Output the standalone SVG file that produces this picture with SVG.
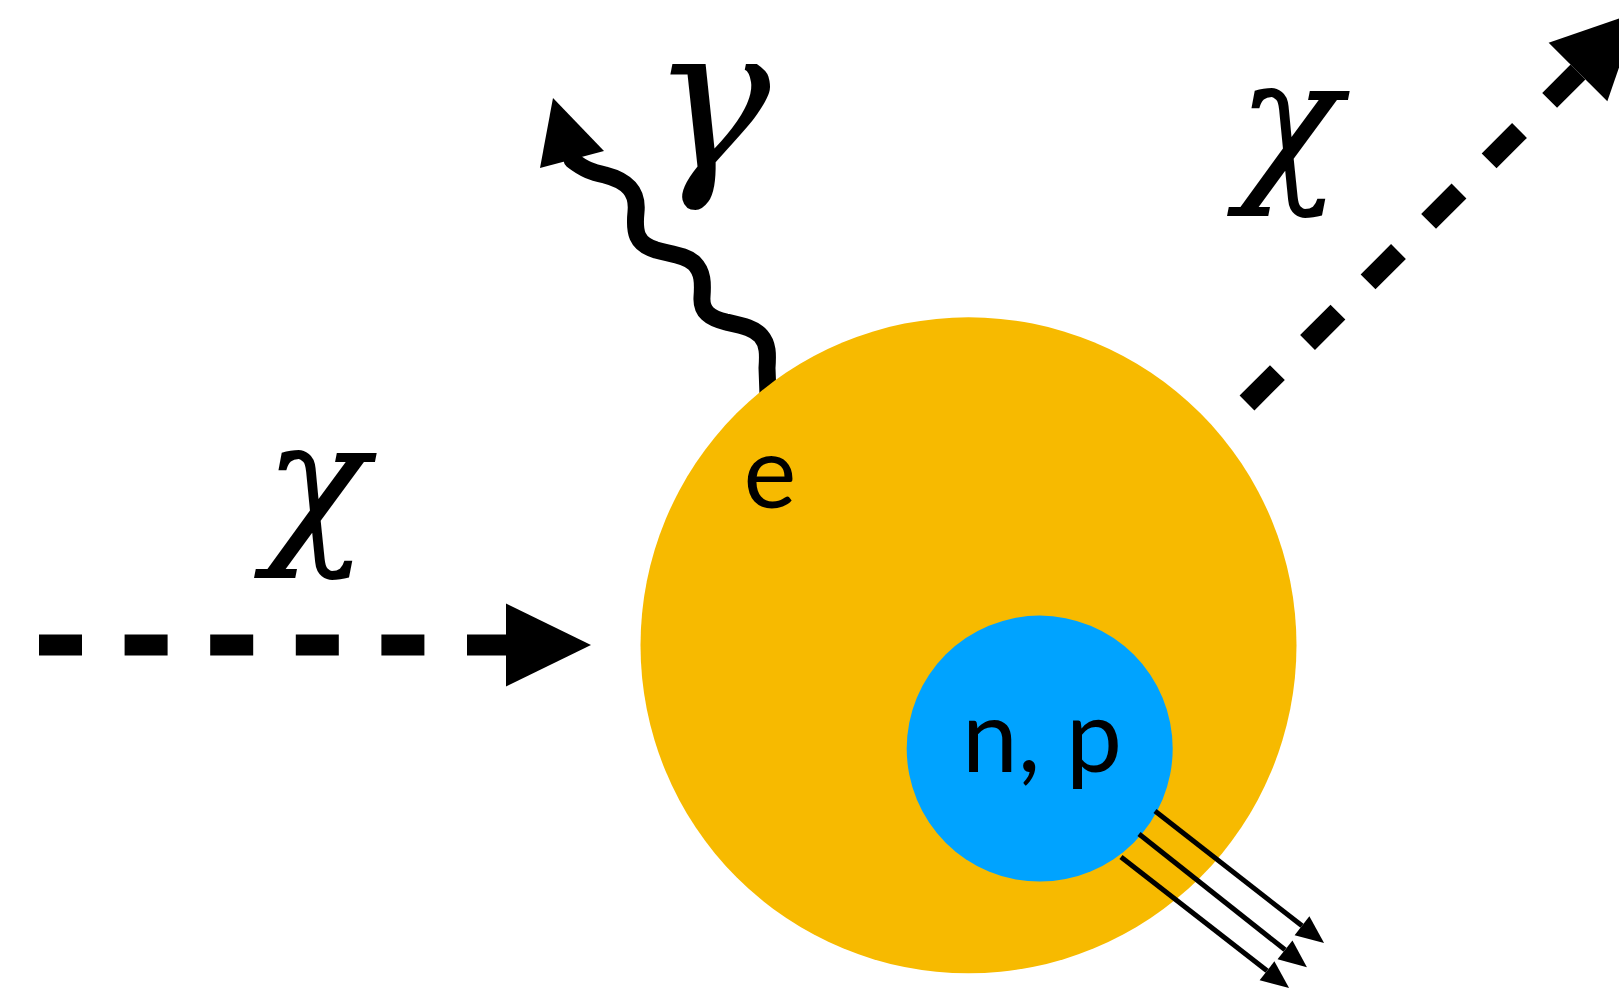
<svg xmlns="http://www.w3.org/2000/svg" width="1619" height="992" viewBox="0 0 1619 992">
<style>
.dash{fill:none;stroke:#000;stroke-width:21;stroke-dasharray:43 42.6}
.wave{fill:none;stroke:#000;stroke-width:17;stroke-linecap:round}
.thin{fill:none;stroke:#000;stroke-width:5}
.greek{font-family:"DejaVu Serif","Liberation Serif",serif;font-style:italic;fill:#000}
.lbl{font-family:Lato,"Open Sans",sans-serif;fill:#000;text-anchor:middle}
</style>
<defs>
<marker id="bigHead" markerUnits="userSpaceOnUse" markerWidth="86" markerHeight="84" refX="0" refY="41.5" orient="auto" overflow="visible">
<path d="M0,0 L85,41.5 L0,83 Z" fill="#000"/>
</marker>
<marker id="smallHead" markerUnits="userSpaceOnUse" markerWidth="30" markerHeight="26" refX="0" refY="12" orient="auto" overflow="visible">
<path d="M0,0 L28,12 L0,24 Z" fill="#000"/>
</marker>
</defs>
<g id="connectors">
<path id="photon" class="wave" d="M572,160 C585,170 592,172 605,175 C628,181 638,192 636,212 C634,232 636,244 656,250 C676,255 686,256 694,263 C703,272 703,283 702,297 C701,312 710,318 726,322 C744,326 754,328 761,336 C768,344 768,354 767,368 L768,395"/>
<polygon points="553,98 604,151 540,168" fill="#000"/>
<path id="chi-in" class="dash" d="M39,645 L506,645" marker-end="url(#bigHead)"/>
<path id="chi-out" class="dash" d="M1247,403 L1578,72" marker-end="url(#bigHead)"/>
</g>
<g id="atom">
<circle cx="968.5" cy="645.3" r="328" fill="#F7BA00"/>
<text class="lbl" x="770" y="508" font-size="100">e</text>
</g>
<g id="nucleus">
<circle cx="1039.7" cy="748.6" r="133" fill="#00A3FF"/>
<text class="lbl" x="1042" y="772" font-size="100">n, p</text>
</g>
<g id="recoil">
<path class="thin" d="M1155,811 L1302,925.8" marker-end="url(#smallHead)"/>
<path class="thin" d="M1139,834 L1285,949.8" marker-end="url(#smallHead)"/>
<path class="thin" d="M1121,857 L1267,970.8" marker-end="url(#smallHead)"/>
</g>
<g id="labels">
<text class="greek" x="264" y="542" font-size="172">χ</text>
<text class="greek" x="1237" y="180" font-size="172">χ</text>
<text class="greek" x="651" y="168" font-size="200">γ</text>
</g>
</svg>
